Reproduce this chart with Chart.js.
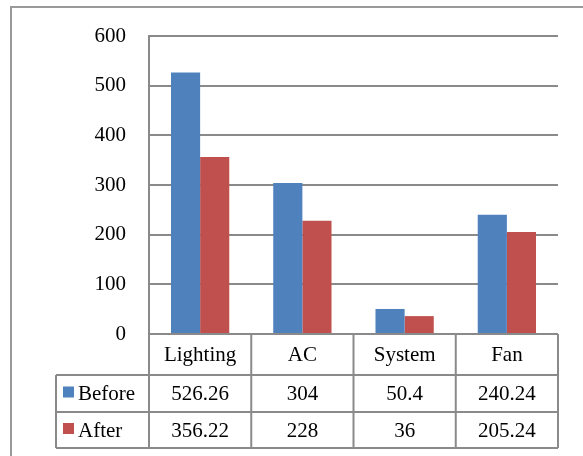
<!DOCTYPE html>
<html>
<head>
<meta charset="utf-8">
<script src="https://cdn.jsdelivr.net/npm/chart.js@4.4.1/dist/chart.umd.min.js"></script>
<style>
html,body{margin:0;padding:0;background:#fff;}
#wrap{width:583px;height:456px;position:relative;}
</style>
</head>
<body>
<div id="wrap"><canvas id="c" width="583" height="456"></canvas></div>
<script>
const categories = ['Lighting', 'AC', 'System', 'Fan'];
const seriesNames = ['Before', 'After'];
const beforeValues = [526.26, 304, 50.4, 240.24];
const afterValues = [356.22, 228, 36, 205.24];
const beforeLabels = ['526.26', '304', '50.4', '240.24'];
const afterLabels = ['356.22', '228', '36', '205.24'];
const yTicks = [0, 100, 200, 300, 400, 500, 600];

const BLUE = '#4F81BD';
const RED = '#C0504D';
const LINE = '#8a8a8a';
const FONT = '"Liberation Serif", "Times New Roman", serif';

const framePlugin = {
  id: 'frame',
  beforeDraw(chart) {
    const ctx = chart.ctx;
    ctx.save();
    ctx.fillStyle = '#fff';
    ctx.fillRect(0, 0, chart.width, chart.height);
    ctx.strokeStyle = '#999';
    ctx.lineWidth = 2;
    ctx.beginPath();
    ctx.moveTo(11, 470);
    ctx.lineTo(11, 7);
    ctx.lineTo(600, 7);
    ctx.stroke();
    ctx.restore();
  }
};

const tablePlugin = {
  id: 'dataTable',
  afterDraw(chart) {
    const ctx = chart.ctx;
    const xs = chart.scales.x;
    const area = chart.chartArea;
    const n = categories.length;
    const half = (xs.getPixelForValue(1) - xs.getPixelForValue(0)) / 2;
    const bounds = [];
    for (let i = 0; i < n; i++) bounds.push(xs.getPixelForValue(i) - half);
    bounds.push(xs.getPixelForValue(n - 1) + half);
    const top = area.bottom;
    const rows = [top, top + 41, top + 78, top + 114];
    const legendLeft = 56;
    ctx.save();
    ctx.strokeStyle = LINE;
    ctx.lineWidth = 2;
    ctx.beginPath();
    // vertical lines in category/value columns
    for (const b of bounds) {
      ctx.moveTo(b, rows[0]);
      ctx.lineTo(b, rows[3]);
    }
    // left border of legend column
    ctx.moveTo(legendLeft, rows[1]);
    ctx.lineTo(legendLeft, rows[3]);
    // horizontals
    ctx.moveTo(bounds[0], rows[0]);
    ctx.lineTo(bounds[n], rows[0]);
    for (let r = 1; r < 4; r++) {
      ctx.moveTo(legendLeft, rows[r]);
      ctx.lineTo(bounds[n], rows[r]);
    }
    ctx.stroke();

    ctx.fillStyle = '#000';
    ctx.font = '21px ' + FONT;
    ctx.textAlign = 'center';
    ctx.textBaseline = 'middle';
    const rowText = [categories, beforeLabels, afterLabels];
    for (let r = 0; r < 3; r++) {
      const cy = (rows[r] + rows[r + 1]) / 2 + 1;
      for (let i = 0; i < n; i++) {
        ctx.fillText(rowText[r][i], xs.getPixelForValue(i), cy);
      }
    }
    // legend keys
    const colors = [BLUE, RED];
    ctx.textAlign = 'left';
    for (let s = 0; s < 2; s++) {
      const cy = (rows[s + 1] + rows[s + 2]) / 2;
      ctx.fillStyle = colors[s];
      ctx.fillRect(63, cy - 7, 11, 11);
      ctx.fillStyle = '#000';
      ctx.fillText(seriesNames[s], 78, cy + 1);
    }
    ctx.restore();
  }
};

new Chart(document.getElementById('c'), {
  type: 'bar',
  data: {
    labels: categories,
    datasets: [
      { label: seriesNames[0], data: beforeValues, backgroundColor: BLUE, borderWidth: 0, categoryPercentage: 0.57, barPercentage: 1.0 },
      { label: seriesNames[1], data: afterValues, backgroundColor: RED, borderWidth: 0, categoryPercentage: 0.57, barPercentage: 1.0 }
    ]
  },
  options: {
    responsive: false,
    animation: false,
    layout: { padding: { left: 0, top: 36, right: 25, bottom: 122 } },
    plugins: { legend: { display: false }, tooltip: { enabled: false } },
    scales: {
      x: { display: false },
      y: {
        min: 0, max: 600,
        afterFit(scale) { scale.width = 149; },
        afterBuildTicks(scale) { scale.ticks = yTicks.map(v => ({ value: v })); },
        ticks: { color: '#000', padding: 23, font: { family: FONT, size: 21 } },
        grid: { color: LINE, lineWidth: 2, drawTicks: false },
        border: { color: LINE, width: 2 }
      }
    }
  },
  plugins: [framePlugin, tablePlugin]
});
</script>
</body>
</html>
